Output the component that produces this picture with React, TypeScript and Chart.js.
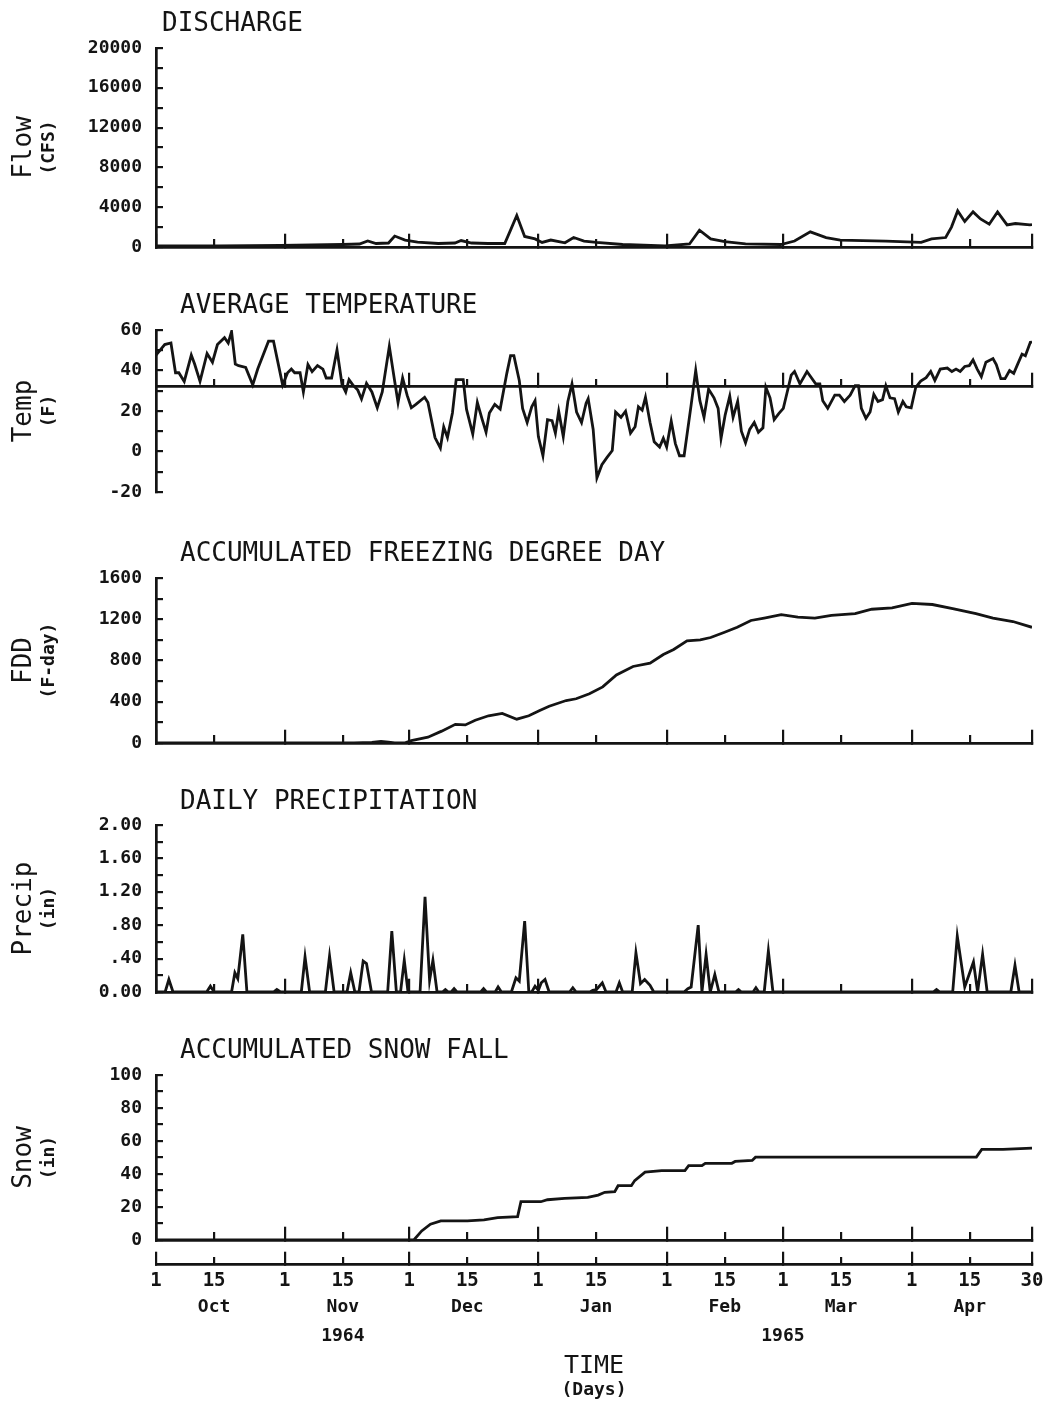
import React, { useEffect, useRef } from 'react';
import { Chart, registerables } from 'chart.js';

Chart.register(...registerables);

// ---------------- time axis (days since 1 Oct 1964) ----------------
const AXIS_MAX_DAY = 211; // 30 Apr 1965
const MAJOR_TICK_DAYS = [0, 31, 61, 92, 123, 151, 182, 211];
const MAJOR_TICK_LABELS = ['1', '1', '1', '1', '1', '1', '1', '30'];
const MINOR_TICK_DAYS = [14, 45, 75, 106, 137, 165, 196];
const MINOR_TICK_LABELS = ['15', '15', '15', '15', '15', '15', '15'];
const MONTH_LABELS = ['Oct', 'Nov', 'Dec', 'Jan', 'Feb', 'Mar', 'Apr'];
const YEAR_TICK_DAYS = [45, 151];
const YEAR_LABELS = ['1964', '1965'];

// ---------------- series: [day, value] ----------------
const FLOW_CFS: [number, number][] = [
  [0, 100], [15, 100], [30, 150], [45, 250], [49, 300], [51, 600], [53, 350], [56, 400],
  [57.5, 1100], [60, 700], [63, 500], [68, 350], [72, 400], [73.5, 650], [76, 400], [80, 350],
  [84, 350], [85.5, 1800], [86.9, 3170], [88.8, 1060], [91.3, 810], [93, 460], [95.1, 700],
  [98.5, 420], [100.6, 950], [103.1, 600], [106.1, 460], [112.4, 250], [122.6, 100], [128.5, 300],
  [130.9, 1690], [133.6, 810], [137, 530], [142, 320], [150.5, 250], [153.8, 600], [157.6, 1520],
  [161.4, 950], [164.8, 700], [175.8, 600], [184.3, 460], [186.8, 810], [190.2, 950], [191.6, 2000],
  [193.1, 3630], [194.8, 2570], [196.8, 3530], [198.6, 2820], [200.7, 2290], [202.7, 3530],
  [205, 2220], [207, 2360], [210.5, 2220], [211, 2250],
];

const TEMP_F: [number, number][] = [
  [0, 47.6], [2.1, 52.8], [3.6, 53.6], [4.7, 38.9], [5.5, 38.9], [6.8, 34.6], [8.5, 47.6], [9.3, 43.2],
  [10.6, 34.6], [12.3, 48.4], [13.6, 44.1], [14.8, 52.8], [16.5, 56.2], [17.4, 53.6], [18.2, 59.2],
  [19.1, 43.2], [19.9, 42.4], [21.6, 41.5], [23.3, 32.9], [24.5, 40.7], [27.1, 54.5], [28.3, 54.5],
  [30.5, 32.9], [31.7, 38.9], [32.6, 40.7], [33.4, 38.9], [34.7, 38.9], [35.5, 29.4], [36.6, 42.9],
  [37.6, 39.4], [38.9, 42.4], [40.2, 40.7], [41, 36.3], [42.3, 36.3], [43.6, 50.2], [44.8, 33.2],
  [45.7, 29.4], [46.5, 35.5], [47.4, 32.9], [48.6, 30.3], [49.5, 25.9], [50.7, 33.7], [52, 29.4],
  [53.3, 21.6], [54.5, 29.4], [56.2, 51.9], [57.5, 34.6], [58.3, 24.2], [59.4, 36.3], [60.5, 27.7],
  [61.5, 21.6], [62.6, 23.3], [64.7, 26.8], [65.5, 24.2], [67.2, 6.9], [68.5, 1.7], [69.3, 12.1],
  [70.2, 6.9], [71.4, 19], [72.3, 35.5], [74, 35.5], [74.8, 20.8], [76.3, 8.6], [77.4, 24.2],
  [78.6, 15.6], [79.5, 9.5], [80.3, 19], [81.6, 23.3], [82.9, 21], [84.5, 38.6], [85.4, 47.3],
  [86.2, 47.3], [87.5, 35.1], [88.3, 21.3], [89.4, 14.3], [90.5, 22.1], [91.3, 25.1], [92.1, 7.4],
  [93.2, -2.1], [94.3, 15.7], [95.4, 15.2], [96.2, 9.1], [97, 19.9], [98.1, 7.4], [99.2, 24.7],
  [100.2, 33.4], [101.3, 19.5], [102.5, 14.3], [103.6, 23.9], [104.1, 26.1], [105.3, 10.9],
  [106.2, -13], [107.4, -6.5], [108.6, -3], [109.9, 0.5], [110.7, 19.5], [112, 16.9], [113.1, 19.9],
  [114.3, 9.1], [115.4, 12.2], [116.2, 22.1], [117.1, 20.4], [117.9, 26.8], [119, 14.3], [120, 4.8],
  [121.3, 2.2], [122.2, 6.5], [123, 2.2], [124.1, 15], [125.1, 3.9], [126.1, -2.1], [127.2, -2.1],
  [128.9, 23], [130, 40], [131, 25.1], [132, 16.9], [133.1, 30.8], [134.4, 26.5], [135.4, 21.3],
  [136.1, 6.5], [137.1, 18.1], [138.2, 27.3], [139, 16.9], [140.1, 24.7], [141, 10], [142, 4.3],
  [143, 10.9], [144.1, 14.3], [145.1, 9.5], [146.2, 11.7], [146.9, 31.7], [147.9, 26.5],
  [148.9, 15.7], [150, 18.7], [151.1, 21.3], [152.1, 29.9], [153, 37.7], [153.8, 39.5],
  [155.1, 33.4], [156.8, 39.5], [158.9, 33.4], [159.9, 33.4], [160.6, 25.1], [161.8, 21.3],
  [163.5, 27.8], [164.6, 27.8], [165.8, 24.7], [167.2, 27.8], [168.4, 32.5], [169.2, 32.5],
  [169.9, 21.3], [171, 16.4], [172, 19.5], [172.9, 28.2], [173.9, 24.7], [175, 25.6], [175.8, 32.5],
  [176.8, 26.5], [177.9, 26.1], [178.8, 19.5], [179.9, 24.7], [180.7, 22.1], [181.9, 21.6],
  [183, 31.7], [184.2, 34.8], [185.5, 36.5], [186.6, 39.5], [187.6, 35.1], [188.9, 40.7],
  [190.6, 41.2], [191.7, 39.5], [192.7, 40.7], [193.7, 39.5], [194.8, 42], [195.9, 42.4],
  [196.8, 45.2], [197.8, 40.7], [198.8, 36.9], [199.9, 44.1], [201.6, 45.9], [202.4, 42.9],
  [203.5, 36], [204.5, 36], [205.6, 40], [206.6, 38.6], [207.5, 42.9], [208.6, 48.1], [209.4, 47.3],
  [210.6, 53.9], [211, 54],
];

const FDD_FDAY: [number, number][] = [
  [0, 0], [47.7, 0], [52, 5], [54.2, 16], [56, 8], [57.5, 0], [60, 2], [61.5, 23], [65.5, 56],
  [68.8, 115], [72.1, 181], [74.5, 175], [76.9, 221], [80.1, 264], [83.4, 287], [86.9, 231],
  [89.8, 264], [92.3, 313], [94.7, 356], [98.8, 412], [101.2, 429], [104.4, 478], [107.6, 544],
  [110.9, 660], [114.9, 742], [119, 775], [122.2, 858], [124.7, 907], [127.9, 990], [131.1, 1000],
  [133.6, 1023], [136.8, 1072], [140, 1122], [143.3, 1188], [146.5, 1211], [150.6, 1244],
  [154.6, 1221], [158.7, 1211], [162.7, 1237], [168.4, 1254], [172.4, 1297], [177.3, 1310],
  [182.1, 1353], [187, 1343], [191.9, 1303], [197.5, 1254], [201.6, 1211], [206.4, 1178], [211, 1122],
];

const PRECIP_IN: [number, number][] = [
  [0, 0], [2.2, 0], [3.1, 0.15], [4.1, 0],
  [12.2, 0], [13.1, 0.07], [14, 0],
  [18.2, 0], [19, 0.23], [19.7, 0.16], [20.9, 0.69], [21.9, 0],
  [28.3, 0], [29.1, 0.03], [30, 0],
  [35, 0], [35.9, 0.42], [37, 0],
  [40.8, 0], [41.8, 0.43], [42.9, 0],
  [46, 0], [46.9, 0.23], [47.9, 0],
  [48.9, 0], [49.9, 0.37], [50.7, 0.34], [51.9, 0],
  [55.8, 0], [56.8, 0.73], [57.9, 0],
  [58.9, 0], [59.8, 0.38], [60.7, 0],
  [63.6, 0], [64.8, 1.14], [65.9, 0.14], [66.7, 0.38], [67.7, 0],
  [69, 0], [69.7, 0.03], [70.4, 0],
  [71.1, 0], [71.8, 0.04], [72.5, 0],
  [78.2, 0], [78.9, 0.04], [79.6, 0],
  [81.7, 0], [82.4, 0.06], [83.2, 0],
  [85.6, 0], [86.7, 0.17], [87.5, 0.13], [88.8, 0.85], [89.8, 0],
  [90.5, 0], [91.3, 0.07], [92.1, 0.02], [92.8, 0.11], [93.7, 0.15], [94.7, 0],
  [99.6, 0], [100.4, 0.05], [101.2, 0],
  [104.5, 0], [105.2, 0.02], [106.1, 0.03], [107.5, 0.11], [108.4, 0],
  [110.8, 0], [111.6, 0.11], [112.4, 0],
  [114.7, 0], [115.6, 0.47], [116.7, 0.1], [117.7, 0.15], [119, 0.08], [119.9, 0],
  [127.2, 0], [128.1, 0.04], [128.9, 0.06], [130.6, 0.8], [131.5, 0],
  [132.5, 0.45], [133.5, 0],
  [134.6, 0.21], [135.6, 0],
  [139.6, 0], [140.3, 0.03], [141, 0],
  [143.8, 0], [144.5, 0.05], [145.2, 0],
  [146.5, 0], [147.5, 0.49], [148.6, 0],
  [187.2, 0], [188, 0.03], [188.8, 0],
  [191.9, 0], [193, 0.67], [194.8, 0.06], [196.9, 0.36], [197.9, 0], [199.1, 0.45], [200.2, 0],
  [205.9, 0], [206.9, 0.32], [207.9, 0],
  [211, 0],
];

const SNOW_IN: [number, number][] = [
  [0, 0], [62.1, 0], [64, 5.5], [66.1, 9.6], [68.6, 11.6], [75, 11.6], [79, 12.2], [82.3, 13.6],
  [87.1, 14.2], [87.9, 23.2], [92.7, 23.2], [94.3, 24.4], [98.4, 25.2], [104, 25.8], [106.5, 27.2],
  [108.1, 28.9], [110.5, 29.3], [111.3, 32.9], [114.5, 32.9], [115.3, 36], [117.8, 41.1],
  [121.8, 42.1], [127.4, 42.1], [128.3, 45.1], [131.5, 45.1], [132.3, 46.5], [138.7, 46.5],
  [139.5, 47.6], [143.6, 48.2], [144.4, 50.2], [197.6, 50.2], [198.9, 54.9], [204, 54.9], [211, 55.7],
];

// ---------------- styling / layout ----------------
const MONO = '"DejaVu Sans Mono", "Liberation Mono", monospace';
const INK = '#141414';
const PAGE_W = 1050;
const PLOT_LEFT = 156;
const PLOT_RIGHT = 1032;

type TextItem = { text: string; x: number; y: number; font: string; align?: CanvasTextAlign; rotate?: number };

function decorPlugin(texts: TextItem[]) {
  return {
    id: 'decor',
    afterDraw(chart: any) {
      const ctx: CanvasRenderingContext2D = chart.ctx;
      texts.forEach((t) => {
        ctx.save();
        ctx.fillStyle = INK;
        ctx.font = t.font;
        ctx.textAlign = t.align || 'left';
        ctx.textBaseline = 'alphabetic';
        ctx.translate(t.x, t.y);
        if (t.rotate) ctx.rotate(t.rotate);
        ctx.fillText(t.text, 0, 0);
        ctx.restore();
      });
    },
  };
}

type Panel = {
  key: string;
  top: number;
  height: number;
  plotTop: number;
  plotBottom: number;
  title: string;
  titleX: number;
  titleBase: number;
  yMain: string;
  ySub: string;
  yMin: number;
  yMax: number;
  yStep: number;
  baseline: number;
  fmt: (v: number) => string;
  series: [number, number][];
};

const PANELS: Panel[] = [
  {
    key: 'flow', top: 0, height: 270, plotTop: 48, plotBottom: 247,
    title: 'DISCHARGE', titleX: 162, titleBase: 31, yMain: 'Flow', ySub: '(CFS)',
    yMin: 0, yMax: 20000, yStep: 2000, baseline: 0,
    fmt: (v) => (Math.round(v) % 4000 === 0 ? String(Math.round(v)) : ''),
    series: FLOW_CFS,
  },
  {
    key: 'temp', top: 270, height: 250, plotTop: 330, plotBottom: 492,
    title: 'AVERAGE TEMPERATURE', titleX: 180, titleBase: 312.5, yMain: 'Temp', ySub: '(F)',
    yMin: -20, yMax: 60, yStep: 10, baseline: 32,
    fmt: (v) => (Math.round(v) % 20 === 0 ? String(Math.round(v)) : ''),
    series: TEMP_F,
  },
  {
    key: 'fdd', top: 520, height: 250, plotTop: 578, plotBottom: 743,
    title: 'ACCUMULATED FREEZING DEGREE DAY', titleX: 180, titleBase: 560.5, yMain: 'FDD', ySub: '(F-day)',
    yMin: 0, yMax: 1600, yStep: 200, baseline: 0,
    fmt: (v) => (Math.round(v) % 400 === 0 ? String(Math.round(v)) : ''),
    series: FDD_FDAY,
  },
  {
    key: 'precip', top: 770, height: 250, plotTop: 825, plotBottom: 992,
    title: 'DAILY PRECIPITATION', titleX: 180, titleBase: 808.5, yMain: 'Precip', ySub: '(in)',
    yMin: 0, yMax: 2, yStep: 0.2, baseline: 0,
    fmt: (v) => {
      const c = Math.round(v * 100);
      if (c % 40 !== 0) return '';
      if (c === 0) return '0.00';
      const s = (c / 100).toFixed(2);
      return c < 100 ? s.slice(1) : s;
    },
    series: PRECIP_IN,
  },
  {
    key: 'snow', top: 1020, height: 230, plotTop: 1075, plotBottom: 1240,
    title: 'ACCUMULATED SNOW FALL', titleX: 180, titleBase: 1057.5, yMain: 'Snow', ySub: '(in)',
    yMin: 0, yMax: 100, yStep: 10, baseline: 0,
    fmt: (v) => (Math.round(v) % 20 === 0 ? String(Math.round(v)) : ''),
    series: SNOW_IN,
  },
];

const TIME_CANVAS = { top: 1244, height: 162, axisY: 1264 };

const zeroPad = (s: any) => {
  s.paddingLeft = 0;
  s.paddingRight = 0;
  s.paddingTop = 0;
  s.paddingBottom = 0;
};

function tickAxis(days: number[], tickLen: number, border: boolean, baseline: number, extra: any = {}) {
  return {
    type: 'linear',
    axis: 'x',
    min: 0,
    max: AXIS_MAX_DAY,
    position: { y: baseline },
    afterBuildTicks: (s: any) => {
      s.ticks = days.map((v) => ({ value: v }));
    },
    afterFit: zeroPad,
    grid: { drawOnChartArea: false, color: INK, tickColor: INK, tickLength: tickLen, tickWidth: 2.2, lineWidth: 2.2 },
    border: { display: border, color: INK, width: 2.7 },
    ticks: { display: false },
    ...extra,
  };
}

function panelConfig(p: Panel) {
  const mid = (p.plotTop + p.plotBottom) / 2 - p.top;
  const texts: TextItem[] = [
    { text: p.title, x: p.titleX, y: p.titleBase - p.top, font: `26px ${MONO}` },
    { text: p.yMain, x: 31, y: mid, font: `26px ${MONO}`, align: 'center', rotate: -Math.PI / 2 },
    { text: p.ySub, x: 54, y: mid, font: `bold 18px ${MONO}`, align: 'center', rotate: -Math.PI / 2 },
  ];
  return {
    type: 'line',
    data: {
      datasets: [
        {
          data: p.series.map(([d, v]) => ({ x: d, y: v })),
          borderColor: INK,
          borderWidth: 2.8,
          pointRadius: 0,
          tension: 0,
          fill: false,
        },
      ],
    },
    options: {
      animation: false,
      responsive: false,
      maintainAspectRatio: false,
      devicePixelRatio: 1,
      events: [],
      layout: {
        padding: {
          left: 0,
          right: PAGE_W - PLOT_RIGHT,
          top: p.plotTop - p.top,
          bottom: p.top + p.height - p.plotBottom,
        },
      },
      plugins: { legend: { display: false }, title: { display: false }, tooltip: { enabled: false } },
      scales: {
        x: tickAxis(MAJOR_TICK_DAYS, -15, true, p.baseline),
        xMinor: tickAxis(MINOR_TICK_DAYS, -8, false, p.baseline),
        y: {
          type: 'linear',
          position: 'left',
          min: p.yMin,
          max: p.yMax,
          afterFit: (s: any) => {
            s.width = PLOT_LEFT;
            zeroPad(s);
          },
          grid: { drawOnChartArea: false, color: INK, tickColor: INK, tickLength: -7, tickWidth: 2.2, lineWidth: 2.2 },
          border: { display: true, color: INK, width: 2.7 },
          ticks: {
            stepSize: p.yStep,
            autoSkip: false,
            padding: 21,
            color: INK,
            font: { family: MONO, size: 18, weight: 'bold' },
            callback: (v: any) => p.fmt(Number(v)),
          },
        },
      },
    },
    plugins: [decorPlugin(texts)],
  };
}

function timeAxisConfig() {
  const c = TIME_CANVAS;
  const dayFont = { family: MONO, size: 19, weight: 'bold' };
  const nameFont = { family: MONO, size: 18, weight: 'bold' };
  const labelTicks = (labels: string[], padding: number, font: any) => ({
    display: true,
    autoSkip: false,
    maxRotation: 0,
    minRotation: 0,
    padding,
    color: INK,
    font,
    callback: (_v: any, i: number) => labels[i],
  });
  const texts: TextItem[] = [
    { text: 'TIME', x: (PLOT_LEFT + PLOT_RIGHT) / 2, y: 1373 - c.top, font: `25px ${MONO}`, align: 'center' },
    { text: '(Days)', x: (PLOT_LEFT + PLOT_RIGHT) / 2, y: 1395 - c.top, font: `bold 18px ${MONO}`, align: 'center' },
  ];
  return {
    type: 'line',
    data: { datasets: [] },
    options: {
      animation: false,
      responsive: false,
      maintainAspectRatio: false,
      devicePixelRatio: 1,
      events: [],
      layout: {
        padding: { left: PLOT_LEFT, right: PAGE_W - PLOT_RIGHT, top: 6, bottom: c.top + c.height - c.axisY },
      },
      plugins: { legend: { display: false }, title: { display: false }, tooltip: { enabled: false } },
      scales: {
        y: { display: false, min: 0, max: 1 },
        x: tickAxis(MAJOR_TICK_DAYS, -14, true, 0, { ticks: labelTicks(MAJOR_TICK_LABELS, 19.6, dayFont) }),
        xMinor: tickAxis(MINOR_TICK_DAYS, -7, false, 0, { ticks: labelTicks(MINOR_TICK_LABELS, 12.6, dayFont) }),
        xMonth: tickAxis(MINOR_TICK_DAYS, 0, false, 0, {
          grid: { display: false },
          ticks: labelTicks(MONTH_LABELS, 25, nameFont),
        }),
        xYear: tickAxis(YEAR_TICK_DAYS, 0, false, 0, {
          grid: { display: false },
          ticks: labelTicks(YEAR_LABELS, 53.5, nameFont),
        }),
      },
    },
    plugins: [decorPlugin(texts)],
  };
}

export default function App() {
  const refs = useRef<(HTMLCanvasElement | null)[]>([]);

  useEffect(() => {
    const charts: Chart[] = [];
    PANELS.forEach((p, i) => {
      const cv = refs.current[i];
      if (cv) charts.push(new Chart(cv, panelConfig(p) as any));
    });
    const tc = refs.current[PANELS.length];
    if (tc) charts.push(new Chart(tc, timeAxisConfig() as any));
    return () => {
      charts.forEach((c) => c.destroy());
    };
  }, []);

  return (
    <div style={{ position: 'absolute', left: 0, top: 0, width: PAGE_W, height: 1406, background: '#fff' }}>
      {PANELS.map((p, i) => (
        <canvas
          key={p.key}
          ref={(el) => {
            refs.current[i] = el;
          }}
          width={PAGE_W}
          height={p.height}
          style={{ position: 'absolute', left: 0, top: p.top, width: PAGE_W, height: p.height }}
        />
      ))}
      <canvas
        ref={(el) => {
          refs.current[PANELS.length] = el;
        }}
        width={PAGE_W}
        height={TIME_CANVAS.height}
        style={{ position: 'absolute', left: 0, top: TIME_CANVAS.top, width: PAGE_W, height: TIME_CANVAS.height }}
      />
    </div>
  );
}
